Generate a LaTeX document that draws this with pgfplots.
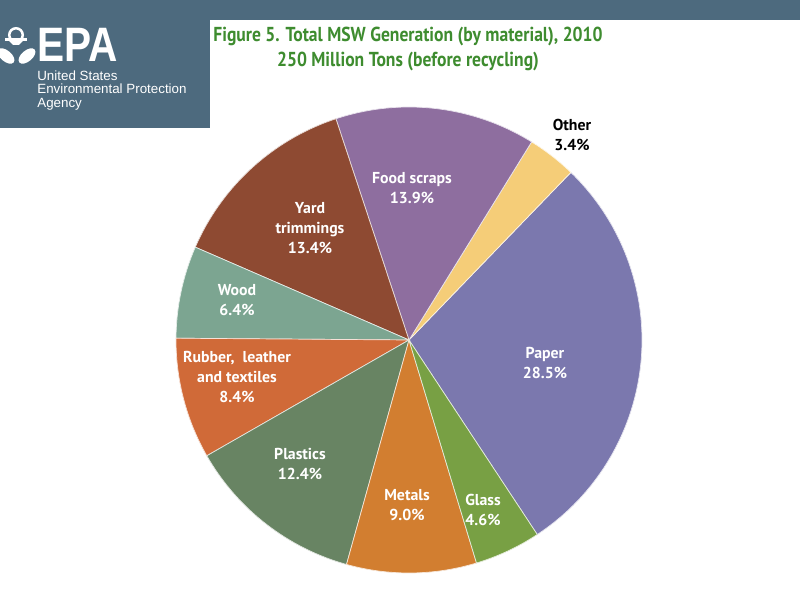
\documentclass[border=0pt]{standalone}
\usepackage{pgfplots}
\usepackage{pgfplotstable}
\pgfplotsset{compat=1.18}
\usepackage{fontspec}
\setmainfont{PT Sans}
\newfontfamily\logofont{Liberation Sans}

\definecolor{slate}{HTML}{4D6A7E}
\definecolor{titlegreen}{HTML}{3E8C2F}
\definecolor{c0}{HTML}{7B78AE} % Paper
\definecolor{c1}{HTML}{F5CD78} % Other
\definecolor{c2}{HTML}{8E6E9F} % Food scraps
\definecolor{c3}{HTML}{8E4A32} % Yard trimmings
\definecolor{c4}{HTML}{7CA591} % Wood
\definecolor{c5}{HTML}{D06A38} % Rubber, leather, textiles
\definecolor{c6}{HTML}{688463} % Plastics
\definecolor{c7}{HTML}{D27E30} % Metals
\definecolor{c8}{HTML}{78A044} % Glass

% share of total MSW generation, counter-clockwise from the Paper/Glass edge
\pgfplotstableread{
material pct
Paper    28.5
Other    3.4
Food     13.9
Yard     13.4
Wood     6.4
Rubber   8.4
Plastics 12.4
Metals   9.0
Glass    4.6
}\mswdata

\begin{document}
\begin{tikzpicture}
\begin{axis}[
  width=16cm, height=12cm, scale only axis,
  xmin=0, xmax=800, ymin=0, ymax=600, y dir=reverse,
  hide axis, clip=false,
]
% page background and EPA banner
\fill[white] (axis cs:0,0) rectangle (axis cs:800,600);
\fill[slate] (axis cs:0,0) rectangle (axis cs:800,20);
\fill[slate] (axis cs:0,0) rectangle (axis cs:210,128);

% logo
\begin{scope}
\clip (axis cs:0,0) rectangle (axis cs:210,128);
\draw[white, line width=0.05cm] (axis cs:16,35) circle[radius=0.135cm];
\fill[white] (axis cs:5,38) rectangle (axis cs:27,41);
\fill[white] (axis cs:9,41) -- (axis cs:23,41) -- (axis cs:19,45) -- (axis cs:13,45) -- cycle;
\fill[white, rotate around={-40:(axis cs:6,56)}] (axis cs:6,56) ellipse[x radius=0.2cm, y radius=0.11cm];
\fill[white, rotate around={40:(axis cs:27,56)}] (axis cs:27,56) ellipse[x radius=0.2cm, y radius=0.11cm];
\end{scope}
\node[anchor=west, text=white, inner sep=0, xscale=0.84,
  font=\logofont\bfseries\fontsize{27.5}{27.5}\selectfont] at (axis cs:37,45) {EPA};
\node[anchor=north west, align=left, text=white, inner sep=0,
  font=\logofont\fontsize{7.6}{7.8}\selectfont] at (axis cs:37,70)
  {United States\\Environmental Protection\\Agency};

% title
\node[text=titlegreen, align=center, font=\bfseries\fontsize{11.5}{13.9}\selectfont]
  at (axis cs:408,49) {\scalebox{0.87}[1]{Figure 5. Total MSW Generation (by material), 2010}\\
  \scalebox{0.87}[1]{250 Million Tons (before recycling)}};

% pie slices
\def\startang{-56.6}
\pgfplotsforeachungrouped \i in {0,...,8}{
  \pgfplotstablegetelem{\i}{pct}\of\mswdata
  \pgfmathsetmacro{\endang}{\startang+3.6*\pgfplotsretval}
  \edef\temp{\noexpand\filldraw[fill=c\i, draw=white!80!c\i, line width=0.4pt]
    (axis cs:409,340) -- ++(\startang:4.66cm)
    arc[start angle=\startang, end angle=\endang, radius=4.66cm] -- cycle;}
  \temp
  \global\let\startang\endang
}

% slice labels
\tikzset{lbl/.style={text=white, align=center, inner sep=0,
  font=\bfseries\fontsize{9}{11.4}\selectfont}}
\node[lbl] at (axis cs:545,363) {Paper\\28.5\%};
\node[lbl, text=black] at (axis cs:572,135) {Other\\3.4\%};
\node[lbl] at (axis cs:412,188) {Food scraps\\13.9\%};
\node[lbl] at (axis cs:310,228) {Yard\\trimmings\\13.4\%};
\node[lbl] at (axis cs:237,300) {Wood\\6.4\%};
\node[lbl] at (axis cs:237,377) {Rubber,\ \ leather\\and textiles\\8.4\%};
\node[lbl] at (axis cs:300,464) {Plastics\\12.4\%};
\node[lbl] at (axis cs:407,505) {Metals\\9.0\%};
\node[lbl] at (axis cs:483,510) {Glass\\4.6\%};
\end{axis}
\end{tikzpicture}
\end{document}
